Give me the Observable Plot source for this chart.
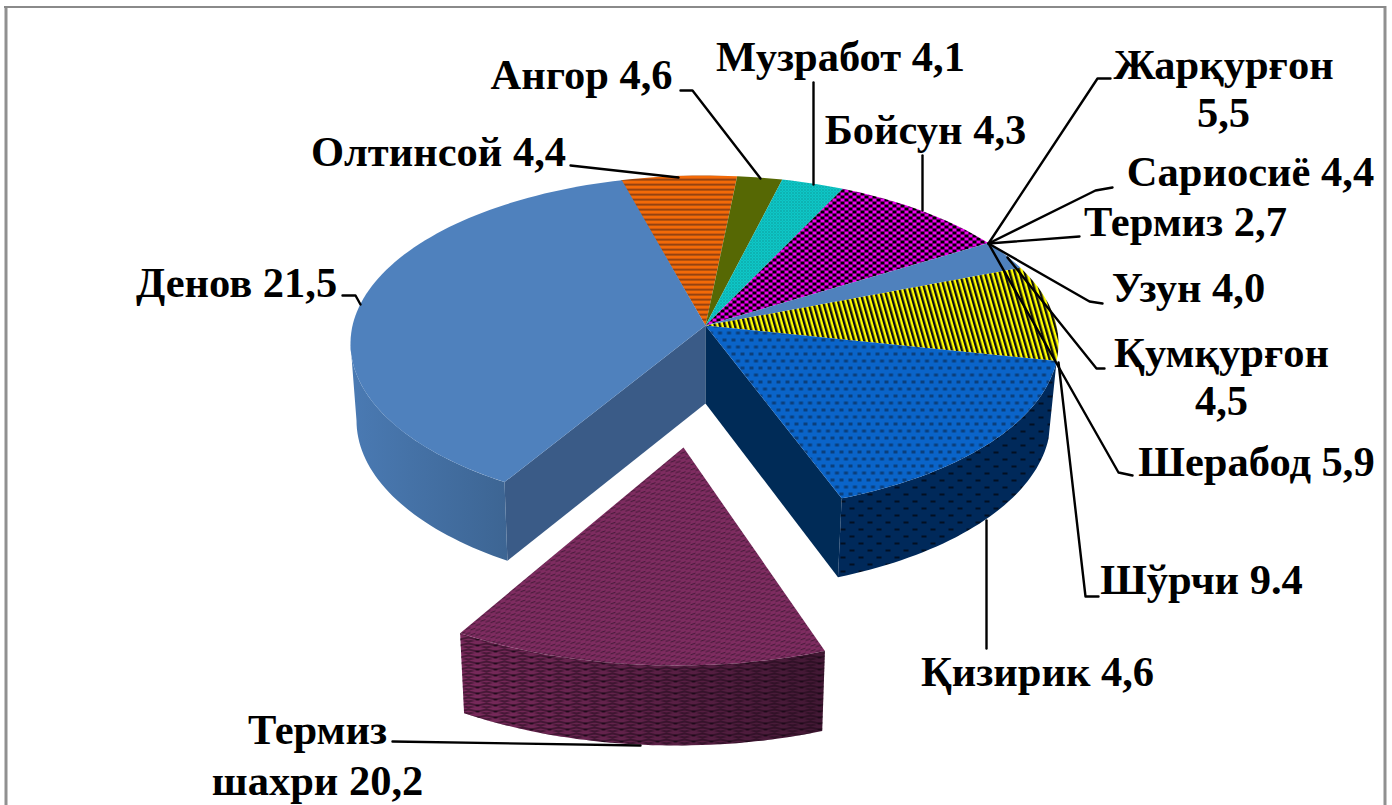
<!DOCTYPE html>
<html>
<head>
<meta charset="utf-8">
<style>html,body{margin:0;padding:0;background:#fff}svg{display:block}</style>
<script src="https://cdn.jsdelivr.net/npm/d3@7"></script>
<script src="https://cdn.jsdelivr.net/npm/@observablehq/plot@0.6"></script>
</head>
<body>
<div id="chart"></div>
<script>
// Data: printed labels
const districts = ["Денов","Олтинсой","Ангор","Музработ","Бойсун","Жарқурғон","Сариосиё","Термиз","Узун","Қумқурғон","Шерабод","Шўрчи","Қизирик"];
const valueLabels = ["21,5","4,4","4,6","4,1","4,3","5,5","4,4","2,7","4,0","4,5","5,9","9.4","4,6"];
const cityName = "Термиз\nшахри";
const cityValue = "20,2";

// Data: the slices as drawn, clockwise, spans (degrees)
const sliceNames = ["Олтинсой","Ангор","Музработ","Бойсун","Термиз","Шерабод","Қизирик","Термиз шахри","Денов"];
const sliceSpans = [19, 7.4, 10.3, 30.3, 9.9, 32.8, 61.2, 57.2, 132.1];

// Layout (separate from data)
const startAngle = -13.7;
const top3d = {cx:704, cy:343, rx:354, ry:168};
const low3d = {cx:703, cy:420, rx:347, ry:170};
const apexTop = {x:705, y:325}, apexLow = {x:705, y:403};
const outTop = {cx:676, cy:480, rx:383, ry:185}, outApex = {x:683, y:447};
const outLow = {cx:676, cy:560, rx:376, ry:185};
const sliceFill = {"Олтинсой":"url(#orange)","Ангор":"url(#olive)","Музработ":"url(#teal)","Бойсун":"url(#magenta)","Термиз":"#4f81bd","Шерабод":"url(#yellow)","Қизирик":"url(#blueTop)","Термиз шахри":"url(#plumTop)","Денов":"#4f81bd"};
const labelFont = 42.5;
const labelLayout = {
  "Денов":[236,293],"Олтинсой":[438,162],"Ангор":[581,85],"Музработ":[840,67],"Бойсун":[925,140],
  "Жарқурғон":[1223,75],"Сариосиё":[1250,182],"Термиз":[1185,232],"Узун":[1188,298],"Қумқурғон":[1221,363],
  "Шерабод":[1256,472],"Шўрчи":[1201,590],"Қизирик":[1037,682]
};
const cityLayout = [317,737];
const wrapped = new Set(["Жарқурғон","Қумқурғон"]);
const leaders = [
  [[342,295],[355,295],[360,304]],
  [[570,165],[678,177]],
  [[680,90],[692,90],[760,178]],
  [[813,82],[813,184]],
  [[922,155],[922,210]],
  [[1110,78],[1097,78],[988,243]],
  [[1112,187],[1095,190],[988,243]],
  [[1079,236],[988,243]],
  [[1102,303],[1089,301],[988,243]],
  [[1104,368],[1096,368],[1007,257]],
  [[1132,475],[1118,472],[988,243]],
  [[1098,596],[1085,596],[1058,362]],
  [[986,520],[986,648]],
  [[392,741],[640,745]]
];

const rad = d => d * Math.PI / 180;
const rim = (e, t) => ({x: e.cx + e.rx * Math.sin(rad(t)), y: e.cy - e.ry * Math.cos(rad(t))});
const arc = (e, a, b) => {
  const n = Math.max(2, Math.ceil(Math.abs(b - a) / 1.5));
  return d3.range(n + 1).map(i => rim(e, a + (b - a) * i / n));
};
const edges = d3.cumsum(sliceSpans).map(s => s + startAngle);
const span = name => { const i = sliceNames.indexOf(name); return [i ? edges[i - 1] : startAngle, edges[i]]; };

const poly = (pts, fill) => Plot.line(pts, {x:"x", y:"y", fill, stroke:"none"});

const patterns = `
<defs>
<pattern id="orange" width="8" height="5" patternUnits="userSpaceOnUse"><rect width="8" height="5" fill="#f26a08"/><rect y="3" width="8" height="1" fill="#b04a10"/><rect y="4" width="8" height="1" fill="#7a3c14"/></pattern>
<pattern id="olive" width="2" height="2" patternUnits="userSpaceOnUse"><rect width="2" height="2" fill="#6d8200"/><rect width="1" height="1" fill="#3f4e08"/><rect x="1" y="1" width="1" height="1" fill="#3f4e08"/></pattern>
<pattern id="teal" width="3" height="3" patternUnits="userSpaceOnUse"><rect width="3" height="3" fill="#0cd4d4"/><rect width="1" height="1" fill="#0d6a6a"/><rect x="1.5" y="1.5" width="1" height="1" fill="#0d6a6a"/></pattern>
<pattern id="magenta" width="8" height="6" patternUnits="userSpaceOnUse"><rect width="8" height="6" fill="#000"/><rect width="4" height="3" fill="#f000f0"/><rect x="4" y="3" width="4" height="3" fill="#f000f0"/></pattern>
<pattern id="yellow" width="5" height="18" patternUnits="userSpaceOnUse" patternTransform="skewX(16)"><rect width="5" height="18" fill="#ffff00"/><rect width="2.5" height="18" fill="#111"/></pattern>
<pattern id="blueTop" width="9" height="14" patternUnits="userSpaceOnUse"><rect width="9" height="14" fill="#0a64c9"/><rect x="2" y="2" width="4" height="3" fill="#0b3f7c"/><rect x="6.5" y="9" width="4" height="3" fill="#0b3f7c"/><rect x="-2.5" y="9" width="4" height="3" fill="#0b3f7c"/></pattern>
<pattern id="blueWall" width="18" height="14" patternUnits="userSpaceOnUse"><rect width="18" height="14" fill="#00295a"/><rect x="3" y="3" width="5" height="2" fill="#020f22"/><rect x="12" y="10" width="5" height="2" fill="#020f22"/></pattern>
<pattern id="plumTop" width="10" height="5" patternUnits="userSpaceOnUse" patternTransform="skewY(-20)"><rect width="10" height="5" fill="#7e2c60"/><rect y="0" width="5" height="1.2" fill="#4a1c3c"/><rect x="5" y="2.5" width="5" height="1.2" fill="#4a1c3c"/></pattern>
<pattern id="plumWall" width="36" height="12" patternUnits="userSpaceOnUse"><path d="M0 1 L18 5 L36 1 M0 7 L18 11 L36 7 M0 5 L18 1 L36 5 M0 11 L18 7 L36 11" stroke="#1a0816" stroke-width="1.1" fill="none"/></pattern>
<linearGradient id="denovWall" x1="350" x2="507" y1="0" y2="0" gradientUnits="userSpaceOnUse"><stop offset="0" stop-color="#4a7ab3"/><stop offset="1" stop-color="#3d6593"/></linearGradient>
<linearGradient id="plumShade" x1="461" x2="826" y1="0" y2="0" gradientUnits="userSpaceOnUse"><stop offset="0" stop-color="#7a2a5c"/><stop offset="1" stop-color="#421834"/></linearGradient>
</defs>`;
const defsMark = () => {
  const g = document.createElementNS("http://www.w3.org/2000/svg", "g");
  g.innerHTML = patterns;
  return g;
};

const [denA] = span("Денов");
const [kizA, kizB] = span("Қизирик");
const [outA, outB] = span("Термиз шахри");
const textStyle = {x:"x", y:"y", text:"text", textAnchor:"middle", lineAnchor:"top",
  fontSize:labelFont, fontWeight:"bold", fontFamily:"Liberation Serif", fill:"#000"};
const topOffset = 0.71 * labelFont;

const marks = [
  defsMark,
  // frame
  Plot.ruleX([5.5, 1384.5], {y1:6, y2:805, stroke:"#909090", strokeWidth:3}),
  Plot.ruleY([6.5], {x1:4, x2:1386, stroke:"#8a8a8a", strokeWidth:2}),
  // inner faces
  poly([apexTop, rim(top3d, denA), rim(low3d, denA), apexLow], "#3a5b87"),
  poly([apexTop, rim(top3d, kizB), rim(low3d, kizB), apexLow], "#002b57"),
  // outer walls
  poly([...arc(top3d, denA, 270), ...arc(low3d, 270, denA)], "url(#denovWall)"),
  poly([...arc(top3d, kizA, kizB), ...arc(low3d, kizB, kizA)], "url(#blueWall)"),
  // top faces
  ...sliceNames.filter(n => n !== "Термиз шахри").map(n => {
    const [a, b] = span(n);
    return poly([apexTop, ...arc(top3d, a, b)], sliceFill[n]);
  }),
  // exploded slice
  poly([...arc(outTop, outA, outB), ...arc(outLow, outB, outA)], "url(#plumShade)"),
  poly([...arc(outTop, outA, outB), ...arc(outLow, outB, outA)], "url(#plumWall)"),
  poly([outApex, ...arc(outTop, outA, outB)], "url(#plumTop)"),
  // leader lines
  ...leaders.map(l => Plot.line(l, {x:d => d[0], y:d => d[1], stroke:"#000", strokeWidth:2.4, strokeLinejoin:"round"})),
  // labels
  Plot.text(districts.map((name, i) => ({
    text: name + (wrapped.has(name) ? "\n" : " ") + valueLabels[i],
    x: labelLayout[name][0],
    y: labelLayout[name][1] - topOffset
  })), {...textStyle, lineHeight:1.12}),
  Plot.text([{text: cityName + " " + cityValue, x: cityLayout[0], y: cityLayout[1] - topOffset}], {...textStyle, lineHeight:1.2})
];

const chart = Plot.plot({
  width:1392, height:805, margin:0,
  style:{background:"#fff"},
  x:{domain:[0,1392], range:[0,1392], axis:null},
  y:{domain:[0,805], range:[0,805], axis:null},
  marks
});
document.getElementById("chart").appendChild(chart);
</script>
</body>
</html>
